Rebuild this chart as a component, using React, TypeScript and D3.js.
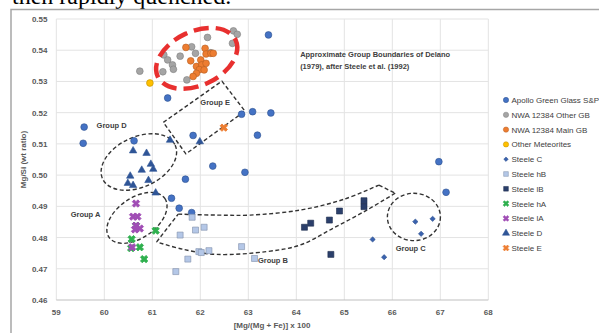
import * as d3 from "d3";
import { useEffect, useRef } from "react";

type Pt = [number, number];

// [Mg/(Mg+Fe)] x 100, Mg/Si
const apolloGreenGlass: Pt[] = [
    [59.58, 0.5154], [59.56, 0.5102], [61.32, 0.5247], [63.42, 0.5449], [62.86, 0.5195],
    [63.09, 0.5203], [63.47, 0.5199], [61.85, 0.5127], [63.19, 0.5128], [60.62, 0.511],
    [62.26, 0.5029], [61.69, 0.4987], [62.93, 0.5009], [61.4, 0.4926], [61.56, 0.4894],
    [61.82, 0.488], [66.97, 0.5043], [67.12, 0.4945],
];
const nwaOtherGB: Pt[] = [
    [60.74, 0.5333], [61.72, 0.5305], [61.24, 0.5385], [61.32, 0.5369], [61.42, 0.5353],
    [61.44, 0.5339], [61.22, 0.5331], [61.58, 0.5381], [61.82, 0.5411], [61.9, 0.539],
    [62.15, 0.5441], [62.22, 0.5392], [62.69, 0.5462], [62.77, 0.5451], [62.67, 0.5422],
];
const nwaMainGB: Pt[] = [
    [61.7, 0.5409], [62.1, 0.5406], [62.12, 0.5388], [62.22, 0.539], [62.27, 0.539],
    [61.8, 0.5366], [62.01, 0.5369], [61.92, 0.5348], [62.03, 0.5353], [62.12, 0.5358],
    [61.98, 0.5338], [62.08, 0.5337], [61.92, 0.5326], [61.85, 0.5316],
];
const otherMeteorites: Pt[] = [[60.95, 0.5295]];
const steeleC: Pt[] = [[65.59, 0.4794], [65.83, 0.4737], [66.48, 0.4851], [66.6, 0.4812], [66.84, 0.486]];
const steeleHB: Pt[] = [
    [61.83, 0.4865], [61.58, 0.4808], [61.9, 0.4824], [62.08, 0.4833], [61.97, 0.4755],
    [62.02, 0.4752], [62.18, 0.4758], [61.74, 0.4731], [61.49, 0.4691], [62.86, 0.4771], [63.13, 0.4733],
];
const steeleLB: Pt[] = [
    [64.17, 0.4833], [64.3, 0.4846], [64.69, 0.4856], [64.9, 0.4885], [65.41, 0.4918],
    [65.41, 0.4899], [64.72, 0.4746],
];
const steeleHA: Pt[] = [[60.66, 0.4838], [60.57, 0.4795], [60.74, 0.4769], [60.83, 0.4731], [61.07, 0.4822], [60.56, 0.4766]];
const steeleLA: Pt[] = [[60.66, 0.4909], [60.6, 0.4867], [60.69, 0.4867], [60.64, 0.4826], [60.74, 0.4829], [60.58, 0.4769], [60.66, 0.4838]];
const steeleD: Pt[] = [
    [60.6, 0.5078], [60.88, 0.507], [60.97, 0.5035], [60.78, 0.5016], [61.02, 0.5019],
    [60.54, 0.4997], [60.49, 0.4974], [60.6, 0.4967], [60.92, 0.4983], [61.07, 0.4943],
    [61.37, 0.5112], [61.99, 0.5107],
];
const steeleE: Pt[] = [[62.49, 0.5152]];

const xTicks = [59, 60, 61, 62, 63, 64, 65, 66, 67, 68];
const yTicks = [0.46, 0.47, 0.48, 0.49, 0.5, 0.51, 0.52, 0.53, 0.54, 0.55];

// group boundaries (data space)
const groupE: Pt[] = [[62.45, 0.5301], [62.93, 0.5205], [61.7, 0.5068], [61.23, 0.5169]];
const groupBUpper: Pt[] = [[61.54, 0.4875], [62.34, 0.4872], [63.04, 0.4872], [64.08, 0.4888], [64.98, 0.4922], [65.72, 0.4968]];
const groupBLower: Pt[] = [
    [66.06, 0.4942], [65.47, 0.4888], [64.77, 0.483], [64.08, 0.4776], [63.38, 0.4755],
    [62.34, 0.4746], [61.65, 0.4762], [61.09, 0.4786],
];

const series = [
    { name: "Apollo Green Glass S&P", data: apolloGreenGlass, shape: "circle", fill: "#4472C4", stroke: "#2F528F" },
    { name: "NWA 12384 Other GB", data: nwaOtherGB, shape: "circle", fill: "#A5A5A5", stroke: "#7F7F7F" },
    { name: "NWA 12384 Main GB", data: nwaMainGB, shape: "circle", fill: "#ED7D31", stroke: "#B65E22" },
    { name: "Other Meteorites", data: otherMeteorites, shape: "circle", fill: "#FFC000", stroke: "#BF9000" },
    { name: "Steele C", data: steeleC, shape: "diamond", fill: "#3A62AE", stroke: "#2F528F" },
    { name: "Steele hB", data: steeleHB, shape: "square", fill: "#B4C7E7", stroke: "#7F8FA9" },
    { name: "Steele lB", data: steeleLB, shape: "square", fill: "#2B3F6B", stroke: "#1F2D4D" },
    { name: "Steele hA", data: steeleHA, shape: "x", fill: "#2EB04E", stroke: "#2EB04E" },
    { name: "Steele lA", data: steeleLA, shape: "x", fill: "#A04DB5", stroke: "#A04DB5" },
    { name: "Steele D", data: steeleD, shape: "triangle", fill: "#2F5597", stroke: "#2F5597" },
    { name: "Steele E", data: steeleE, shape: "x", fill: "#ED7D31", stroke: "#ED7D31" },
];

const FONT = "'Liberation Sans', Arial, sans-serif";

function symbolPath(shape: string, size: number) {
    const type =
        shape === "circle" ? d3.symbolCircle
        : shape === "square" || shape === "diamond" ? d3.symbolSquare
        : shape === "triangle" ? d3.symbolTriangle
        : d3.symbolCross;
    return d3.symbol().type(type).size(size)() ?? "";
}

const rotated = (shape: string) => shape === "x" || shape === "diamond";

export default function App() {
    const svgRef = useRef<SVGSVGElement | null>(null);

    useEffect(() => {
        if (!svgRef.current) return;
        const svg = d3.select(svgRef.current);
        svg.selectAll("*").remove();

        const x = d3.scaleLinear().domain([59, 68]).range([56.3, 488.3]);
        const y = d3.scaleLinear().domain([0.46, 0.55]).range([300, 19]);

        // text from the page above the figure
        svg.append("text")
            .attr("x", 12)
            .attr("y", 4)
            .attr("font-family", "'Liberation Serif', 'Times New Roman', serif")
            .attr("font-size", 24)
            .attr("fill", "#000")
            .text("then rapidly quenched.");

        // chart frame
        svg.append("rect")
            .attr("x", 11)
            .attr("y", 9.5)
            .attr("width", 620)
            .attr("height", 340)
            .attr("fill", "#fff")
            .attr("stroke", "#A6A6A6")
            .attr("stroke-width", 1.5);

        // grid
        const grid = svg.append("g").attr("stroke", "#E3E3E3").attr("stroke-width", 1);
        grid.selectAll("line.v")
            .data(xTicks)
            .enter()
            .append("line")
            .attr("x1", (d) => x(d))
            .attr("x2", (d) => x(d))
            .attr("y1", y(0.55))
            .attr("y2", y(0.46));
        grid.selectAll("line.h")
            .data(yTicks.filter((d) => d > 0.46))
            .enter()
            .append("line")
            .attr("x1", x(59))
            .attr("x2", x(68))
            .attr("y1", (d) => y(d))
            .attr("y2", (d) => y(d));
        svg.append("line")
            .attr("x1", x(59))
            .attr("x2", x(68))
            .attr("y1", y(0.46))
            .attr("y2", y(0.46))
            .attr("stroke", "#BFBFBF")
            .attr("stroke-width", 1);

        // tick labels
        const tickStyle = (s: d3.Selection<SVGTextElement, number, SVGGElement, unknown>) =>
            s.attr("font-family", FONT).attr("font-size", 8).attr("font-weight", "bold").attr("fill", "#595959");
        svg.append("g")
            .selectAll("text")
            .data(yTicks)
            .enter()
            .append("text")
            .attr("x", 47.5)
            .attr("y", (d) => y(d) + 3)
            .attr("text-anchor", "end")
            .text((d) => d.toFixed(2))
            .call(tickStyle);
        svg.append("g")
            .selectAll("text")
            .data(xTicks)
            .enter()
            .append("text")
            .attr("x", (d) => x(d))
            .attr("y", 315)
            .attr("text-anchor", "middle")
            .text((d) => String(d))
            .call(tickStyle);

        // axis titles
        svg.append("text")
            .attr("x", 272)
            .attr("y", 328)
            .attr("text-anchor", "middle")
            .attr("font-family", FONT)
            .attr("font-size", 8)
            .attr("font-weight", "bold")
            .attr("fill", "#595959")
            .text("[Mg/(Mg + Fe)] x 100");
        svg.append("text")
            .attr("transform", `translate(26,${y(0.505)}) rotate(-90)`)
            .attr("text-anchor", "middle")
            .attr("font-family", FONT)
            .attr("font-size", 8)
            .attr("font-weight", "bold")
            .attr("fill", "#595959")
            .text("Mg/Si (wt ratio)");

        // group boundaries
        const bounds = svg.append("g")
            .attr("fill", "none")
            .attr("stroke", "#333")
            .attr("stroke-width", 1.4)
            .attr("stroke-dasharray", "4 2.5");
        const ellipse = (cx: number, cy: number, rx: number, ry: number, rot: number) =>
            bounds.append("ellipse")
                .attr("cx", x(cx))
                .attr("cy", y(cy))
                .attr("rx", rx)
                .attr("ry", ry)
                .attr("transform", `rotate(${rot},${x(cx)},${y(cy)})`);
        ellipse(60.72, 0.5042, 40, 25, -25);
        ellipse(60.68, 0.4863, 34, 20, -35);
        ellipse(66.45, 0.4866, 26.5, 23.7, 0);

        const line = d3.line<Pt>().x((d) => x(d[0])).y((d) => y(d[1]));
        bounds.append("path").attr("d", line.curve(d3.curveLinearClosed)(groupE) ?? "");
        const curved = d3.line<Pt>().x((d) => x(d[0])).y((d) => y(d[1])).curve(d3.curveCatmullRom);
        bounds.append("path").attr("d", curved(groupBUpper) ?? "");
        bounds.append("path").attr("d", curved(groupBLower) ?? "");
        const straight = d3.line<Pt>().x((d) => x(d[0])).y((d) => y(d[1]));
        bounds.append("path").attr("d", straight([groupBLower[groupBLower.length - 1], groupBUpper[0]]) ?? "");
        bounds.append("path").attr("d", straight([groupBUpper[groupBUpper.length - 1], groupBLower[0]]) ?? "");

        // points
        series.forEach((s) => {
            const size = s.shape === "diamond" ? 14 : s.shape === "x" ? 34 : s.shape === "triangle" ? 24 : 36;
            svg.append("g")
                .selectAll("path")
                .data(s.data)
                .enter()
                .append("path")
                .attr("d", symbolPath(s.shape, size))
                .attr("transform", (d) => `translate(${x(d[0])},${y(d[1])})${rotated(s.shape) ? " rotate(45)" : ""}`)
                .attr("fill", s.fill)
                .attr("stroke", s.stroke)
                .attr("stroke-width", s.shape === "x" ? 0.8 : 0.6);
        });

        // red outline around NWA 12384
        svg.append("ellipse")
            .attr("cx", x(61.925))
            .attr("cy", y(0.5374))
            .attr("rx", 43)
            .attr("ry", 27)
            .attr("transform", `rotate(-25,${x(61.925)},${y(0.5374)})`)
            .attr("fill", "none")
            .attr("stroke", "#E8302F")
            .attr("stroke-width", 4.5)
            .attr("stroke-dasharray", "15 7");

        // labels
        const label = (tx: number, ty: number, text: string, anchor = "start") =>
            svg.append("text")
                .attr("x", tx)
                .attr("y", ty)
                .attr("text-anchor", anchor)
                .attr("font-family", FONT)
                .attr("font-size", 7.5)
                .attr("font-weight", "bold")
                .attr("fill", "#404040")
                .text(text);
        label(x(59.84), y(0.5151), "Group D");
        label(x(62.0), y(0.5224), "Group E");
        label(x(59.3), y(0.4865), "Group A");
        label(x(63.2), y(0.4718), "Group B");
        label(x(66.07), y(0.4756), "Group C");
        label(x(64.08), y(0.5378), "Approximate Group Boundaries of Delano");
        label(x(64.08), y(0.534), "(1979), after Steele et al. (1992)");

        // legend
        const legend = svg.append("g").attr("transform", "translate(506,100)");
        legend.selectAll("g")
            .data(series)
            .enter()
            .append("g")
            .attr("transform", (_, i) => `translate(0,${i * 14.8})`)
            .call((item) => {
                item.append("path")
                    .attr("d", (d) => symbolPath(d.shape, d.shape === "diamond" ? 10 : 22))
                    .attr("transform", (d) => (rotated(d.shape) ? "rotate(45)" : ""))
                    .attr("fill", (d) => d.fill)
                    .attr("stroke", (d) => d.stroke)
                    .attr("stroke-width", 0.5);
                item.append("text")
                    .attr("x", 5.5)
                    .attr("y", 3)
                    .attr("font-family", FONT)
                    .attr("font-size", 8)
                    .attr("fill", "#404040")
                    .text((d) => d.name);
            });

        return () => {
            svg.selectAll("*").remove();
        };
    }, []);

    return (
        <svg
            ref={svgRef}
            width={599}
            height={333}
            style={{ position: "absolute", left: 0, top: 0, background: "#fff" }}
        />
    );
}
